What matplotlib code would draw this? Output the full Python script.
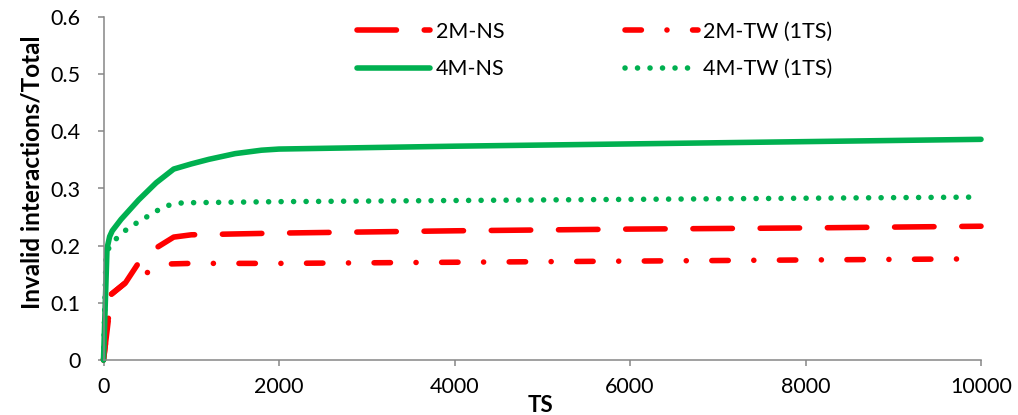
import matplotlib
matplotlib.use("Agg")
import matplotlib.pyplot as plt
from matplotlib.ticker import FixedLocator, FuncFormatter

# Simulation time steps and the invalid-interaction ratio for each setup
ts_4m_ns = [0, 40, 70, 100, 200, 400, 600, 800, 1000, 1200, 1500, 1800, 2000, 4000, 6000, 8000, 10000]
ratio_4m_ns = [0.0, 0.195, 0.216, 0.226, 0.246, 0.280, 0.310, 0.334, 0.343, 0.351, 0.361, 0.367, 0.369, 0.374, 0.378, 0.382, 0.386]

ts_4m_tw = [0, 30, 70, 150, 260, 380, 500, 620, 750, 900, 2000, 4000, 6000, 8000, 10000]
ratio_4m_tw = [0.0, 0.190, 0.197, 0.213, 0.228, 0.240, 0.251, 0.262, 0.271, 0.275, 0.277, 0.279, 0.281, 0.283, 0.285]

ts_2m_ns = [0, 55, 65, 250, 400, 600, 800, 1000, 2000, 4000, 6000, 8000, 10000]
ratio_2m_ns = [0.0, 0.070, 0.112, 0.135, 0.170, 0.196, 0.215, 0.219, 0.222, 0.226, 0.229, 0.231, 0.234]

ts_2m_tw = [0, 55, 65, 250, 500, 750, 1000, 2000, 4000, 6000, 8000, 10000]
ratio_2m_tw = [0.0, 0.070, 0.112, 0.135, 0.153, 0.168, 0.169, 0.169, 0.171, 0.173, 0.175, 0.177]

x_ticks = [0, 2000, 4000, 6000, 8000, 10000]
y_ticks = [0, 0.1, 0.2, 0.3, 0.4, 0.5, 0.6]

RED = "#FF0000"
GREEN = "#00B050"
AXIS_GRAY = "#868686"
FONT = ["Lato", "DejaVu Sans"]

plt.rcParams["font.family"] = FONT

W, H = 1018, 415
fig = plt.figure(figsize=(W / 100, H / 100), dpi=100)
left, right, top, bottom = 103.5, 981, 17, 360
ax = fig.add_axes([left / W, 1 - bottom / H, (right - left) / W, (bottom - top) / H])

lw = 4.0
common = dict(lw=lw, solid_capstyle="round", dash_capstyle="round", clip_on=False)
l1, = ax.plot(ts_2m_ns, ratio_2m_ns, color=RED, linestyle=(0, (7.1, 5.0)), label="2M-NS", **common)
l3, = ax.plot(ts_2m_tw, ratio_2m_tw, color=RED, linestyle=(0, (2.95, 4.6, 0.01, 4.6)), label="2M-TW (1TS)", **common)
l4, = ax.plot(ts_4m_tw, ratio_4m_tw, color=GREEN, linestyle=(0, (0.01, 2.24)), label="4M-TW (1TS)", **common)
l2, = ax.plot(ts_4m_ns, ratio_4m_ns, color=GREEN, linestyle="-", label="4M-NS", **common)

ax.set_xlim(0, 10000)
ax.set_ylim(0, 0.6)
ax.xaxis.set_major_locator(FixedLocator(x_ticks))
ax.yaxis.set_major_locator(FixedLocator(y_ticks))
ax.yaxis.set_major_formatter(FuncFormatter(lambda v, p: "0" if v == 0 else f"{v:.1f}"))

for s in ["top", "right"]:
    ax.spines[s].set_visible(False)
for s in ["left", "bottom"]:
    ax.spines[s].set_color(AXIS_GRAY)
    ax.spines[s].set_linewidth(1.1)

ax.tick_params(axis="both", direction="out", length=4.5, width=1.1, color=AXIS_GRAY,
               labelsize=15.5, labelcolor="black")
ax.tick_params(axis="y", pad=12)
ax.tick_params(axis="x", pad=8)

fig.text(32 / W, 1 - 172 / H, "Invalid interactions/Total", rotation=90,
         ha="center", va="center", fontsize=17.5, fontweight="bold")
fig.text(541 / W, 1 - 405 / H, "TS", ha="center", va="center",
         fontsize=16, fontweight="bold")

leg = ax.legend(handles=[l1, l2, l3, l4], ncol=2, frameon=False,
                loc="upper left", bbox_to_anchor=(357 / W, 1 - 22 / H),
                bbox_transform=fig.transFigure, fontsize=15.5,
                handlelength=3.4, handletextpad=0.25, columnspacing=5.6,
                labelspacing=0.8, borderpad=0, borderaxespad=0)

fig.savefig("out.png", dpi=100)
